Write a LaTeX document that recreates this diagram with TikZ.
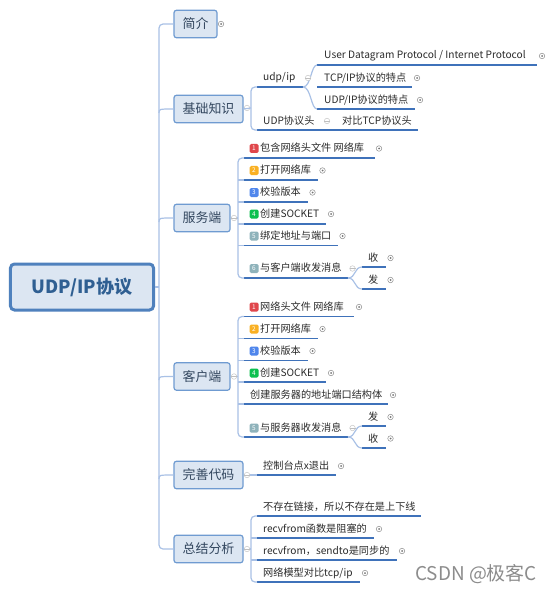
\documentclass[tikz,border=0pt]{standalone}
\usepackage{fontspec}
\setmainfont{Noto Sans CJK SC}
\definecolor{trunkc}{HTML}{A9C1E6}
\definecolor{linec}{HTML}{3F72BA}
\definecolor{boxf}{HTML}{DCE6F2}
\definecolor{boxd}{HTML}{6F9BD1}
\definecolor{boxt}{HTML}{33475F}
\definecolor{leaft}{HTML}{2B2B2B}
\definecolor{rootd}{HTML}{4F81BD}
\definecolor{rootT}{HTML}{2F5F92}
\definecolor{icr}{HTML}{E0474C}
\definecolor{ico}{HTML}{F9B023}
\definecolor{icb}{HTML}{4F86EC}
\definecolor{icg}{HTML}{0CC04F}
\definecolor{ict}{HTML}{8FB3BB}
\tikzset{
 branchbox/.style={draw=boxd,fill=boxf,line width=1.2bp,rounded corners=2.5bp,text=boxt,font=\fontsize{13}{16}\selectfont,inner sep=0pt,minimum height=27.5bp},
 rootbox/.style={draw=rootd,fill=boxf,line width=3bp,rounded corners=4bp,text=rootT,font=\fontsize{18.2}{22}\bfseries\selectfont,inner sep=0pt,minimum width=143bp,minimum height=46bp},
 trunk/.style={draw=trunkc,line width=1.2bp,rounded corners=4bp},
 curve/.style={draw=trunkc,line width=1.2bp},
 uline/.style={draw=linec,line width=1.3bp},
 leaftext/.style={anchor=west,inner sep=0pt,text=leaft,font=\fontsize{10.2}{13}\selectfont},
 icon/.style={fill=#1,rounded corners=1.5bp,minimum size=9bp,inner sep=0pt,text=white,font=\fontsize{6.5}{7}\selectfont},
 expbase/.style={circle,fill=white,inner sep=0pt,minimum size=5.5bp,line width=.5bp},
 plusexp/.style={expbase,draw=black!45},
 minusexp/.style={expbase,draw=black!22},
}
% name, x1, x2, yline, textx, texty, text
\newcommand{\leaf}[7]{%
 \coordinate (#1L) at (#2,#4);
 \coordinate (#1R) at (#3,#4);
 \draw[uline] (#1L) -- (#1R);
 \node[leaftext] (#1) at (#5,#6) {#7};
}
\newcommand{\pexp}[3]{\node[plusexp] (#1) at (#2,#3) {}; \fill[black!55] (#1.center) circle (1bp);}
\newcommand{\mexp}[3]{\node[minusexp] (#1) at (#2,#3) {}; \draw[black!25,line width=.5bp] (#1.west) -- (#1.east);}
\newcommand{\nicon}[5]{\node[icon=#4] (#1) at (#2,#3) {#5};}
\begin{document}
\begin{tikzpicture}[x=1bp,y=-1bp]
\useasboundingbox (0,0) rectangle (554,592);
\fill[white] (0,0) rectangle (554,592);

% main boxes
\node[rootbox] (root) at (82,287) {UDP/IP协议};
\node[branchbox,minimum width=43bp] (intro) at (195.5,24) {简介};
\node[branchbox,minimum width=69bp] (basic) at (208.5,109) {基础知识};
\node[branchbox,minimum width=56bp] (server) at (202,218) {服务端};
\node[branchbox,minimum width=56bp] (client) at (202,376.5) {客户端};
\node[branchbox,minimum width=69bp] (improve) at (208.5,475) {完善代码};
\node[branchbox,minimum width=69bp] (summary) at (208.5,549) {总结分析};

% main trunk
\coordinate (T) at (159,287);
\coordinate (bT) at (159,113);
\coordinate (sT) at (159,222);
\coordinate (cT) at (159,380);
\coordinate (iT) at (159,479);
\draw[trunk] (intro.west) -| (T) |- (summary.west);
\draw[trunk] (root.east) -- (T);
\foreach \bx/\tx in {basic/bT,server/sT,client/cT,improve/iT}{
 \draw[curve] (\tx) .. controls (\tx|-\bx.west) and (\tx|-\bx.west) .. (\bx.west);
}
\pexp{eintro}{221}{24}

% basic
\leaf{udpip}{257}{303}{87}{263}{78}{udp/ip}
\leaf{udphead}{257}{322}{130}{263}{121}{UDP协议头}
\leaf{tcphead}{322}{418}{130}{342}{121}{对比TCP协议头}
\leaf{ud}{317}{537}{65}{324}{55.5}{User Datagram Protocol / Internet Protocol}
\leaf{tcpf}{317}{412}{87}{324}{78}{TCP/IP协议的特点}
\leaf{udpf}{317}{415}{109}{324}{100}{UDP/IP协议的特点}
\mexp{ebasic}{247}{108}
\coordinate (bTr) at (251,108);
\draw[trunk] (udpipL) -| (bTr) |- (udpheadL);
\draw[trunk] (basic.east) -- (bTr);
\draw[curve] (udpipR) .. controls (311,87) and (311,65) .. (udL);
\draw[curve] (udpipR) .. controls (311,87) and (311,109) .. (udpfL);
\mexp{eudp}{308}{78}
\pexp{eud}{542}{56}
\pexp{etcpf}{417}{78}
\pexp{eudpf}{420}{100}
\mexp{ehead}{327}{121}

% server
\leaf{s1}{244}{375}{158}{260}{148}{包含网络头文件 网络库}
\leaf{s2}{244}{318}{180}{260}{170}{打开网络库}
\leaf{s3}{244}{308}{202}{260}{192}{校验版本}
\leaf{s4}{244}{326}{224}{260}{214}{创建SOCKET}
\leaf{s5}{244}{338}{245.5}{260}{236}{绑定地址与端口}
\leaf{s6}{244}{348}{278}{260}{268}{与客户端收发消息}
\coordinate (sTr) at (238,218);
\draw[trunk] (s1L) -| (sTr) |- (s6L);
\draw[trunk] (server.east) -- (sTr);
\foreach \i in {2,3,4,5}{\draw[trunk] (sTr|-s\i L) -- (s\i L);}
\mexp{eserver}{234}{218}
\nicon{si1}{254}{148.5}{icr}{1}
\nicon{si2}{254}{170.5}{ico}{2}
\nicon{si3}{254}{192.5}{icb}{3}
\nicon{si4}{254}{214}{icg}{4}
\nicon{si5}{254}{236}{ict}{5}
\nicon{si6}{254}{268.5}{ict}{6}
\pexp{es1}{379}{148.5}
\pexp{es2}{322.5}{170.5}
\pexp{es3}{312.5}{192.5}
\pexp{es4}{331}{214}
\pexp{es5}{342.5}{236}
\mexp{es6}{352.5}{268.5}
\leaf{sr}{362}{386}{267}{368}{258}{收}
\leaf{ss}{362}{386}{289}{368}{280}{发}
\draw[curve] (s6R) .. controls (356,278) and (354,267) .. (srL);
\draw[curve] (s6R) .. controls (356,278) and (354,289) .. (ssL);
\pexp{esr}{390.5}{258}
\pexp{ess}{390.5}{280}

% client
\leaf{c1}{244}{354}{316.5}{260}{307}{网络头文件 网络库}
\leaf{c2}{244}{318}{338.5}{260}{329}{打开网络库}
\leaf{c3}{244}{308}{360.5}{260}{351}{校验版本}
\leaf{c4}{244}{326}{382}{260}{372.5}{创建SOCKET}
\leaf{c5}{244}{388}{404}{250}{395}{创建服务器的地址端口结构体}
\leaf{c6}{244}{348}{437}{260}{428}{与服务器收发消息}
\coordinate (cTr) at (238,376.5);
\draw[trunk] (c1L) -| (cTr) |- (c6L);
\draw[trunk] (client.east) -- (cTr);
\foreach \i in {2,3,4,5}{\draw[trunk] (cTr|-c\i L) -- (c\i L);}
\mexp{eclient}{234}{376.5}
\nicon{ci1}{254}{307}{icr}{1}
\nicon{ci2}{254}{329}{ico}{2}
\nicon{ci3}{254}{351}{icb}{3}
\nicon{ci4}{254}{373}{icg}{4}
\nicon{ci5}{254}{428}{ict}{5}
\pexp{ec1}{359}{307}
\pexp{ec2}{322.5}{329}
\pexp{ec3}{312.5}{351}
\pexp{ec4}{331}{373}
\pexp{ec5}{393}{395}
\mexp{ec6}{352.5}{428}
\leaf{cs}{362}{386}{426}{368}{417}{发}
\leaf{cr}{362}{386}{448}{368}{438.5}{收}
\draw[curve] (c6R) .. controls (356,437) and (354,426) .. (csL);
\draw[curve] (c6R) .. controls (356,437) and (354,448) .. (crL);
\pexp{ecs}{390.5}{417}
\pexp{ecr}{390.5}{438.5}

% improve
\leaf{i1}{257}{336}{475}{263}{465.5}{控制台点x退出}
\draw[trunk] (improve.east) -- (i1L);
\mexp{eimprove}{247}{475}
\pexp{ei1}{341}{466}

% summary
\leaf{a1}{257}{421}{516}{263}{507}{不存在链接，所以不存在是上下线}
\leaf{a2}{257}{374}{538}{263}{529}{recvfrom函数是阻塞的}
\leaf{a3}{257}{397}{560}{263}{551}{recvfrom，sendto是同步的}
\leaf{a4}{257}{360}{582}{263}{573}{网络模型对比tcp/ip}
\coordinate (aTr) at (251,549);
\draw[trunk] (a1L) -| (aTr) |- (a4L);
\draw[trunk] (summary.east) -- (aTr);
\draw[trunk] (aTr|-a2L) -- (a2L);
\draw[trunk] (aTr|-a3L) -- (a3L);
\mexp{esummary}{247}{549}
\pexp{ea2}{379}{529}
\pexp{ea3}{402}{551}
\pexp{ea4}{365}{573}

% watermark
\node[anchor=west,inner sep=0pt,text=black!45,font=\fontsize{19}{22}\selectfont] (wm) at (415,574) {CSDN @极客C};
\end{tikzpicture}
\end{document}
